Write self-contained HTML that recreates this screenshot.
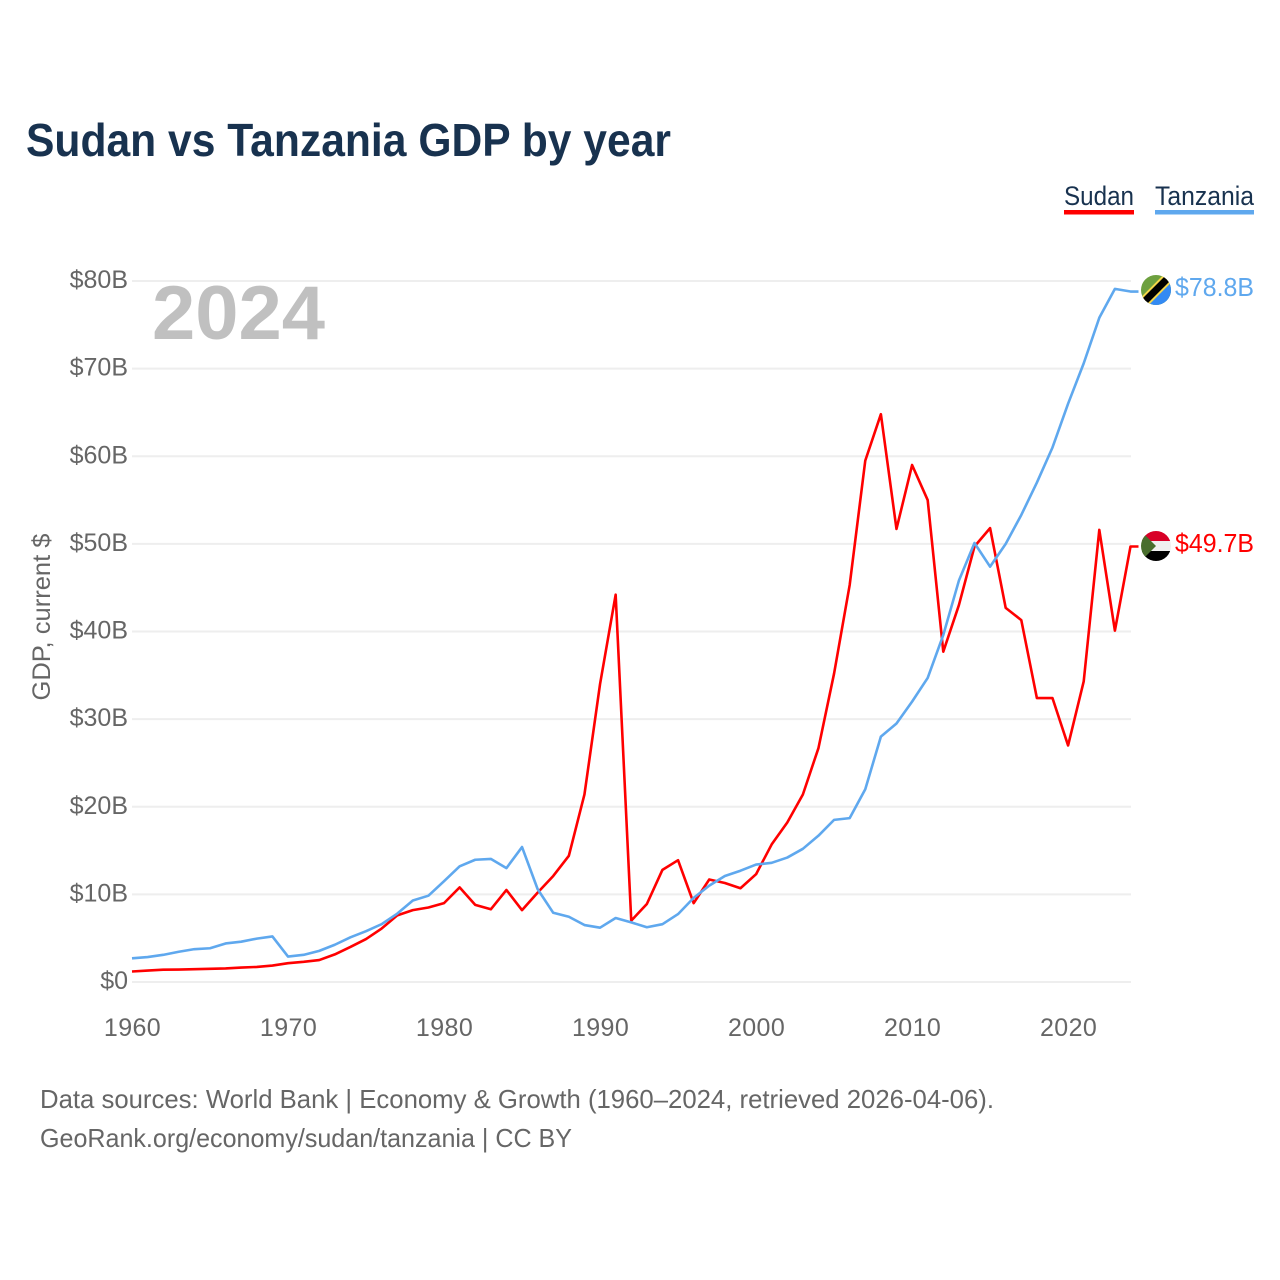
<!DOCTYPE html>
<html lang="en">
<head>
<meta charset="utf-8">
<title>Sudan vs Tanzania GDP by year</title>
<style>
html,body{margin:0;padding:0;background:#fff;width:1280px;height:1280px;overflow:hidden}
svg{display:block;font-family:"Liberation Sans",Arial,sans-serif}
</style>
</head>
<body>
<svg id="chart" xmlns="http://www.w3.org/2000/svg" width="1280" height="1280" viewBox="0 0 1280 1280">
  <defs>
    <clipPath id="flag-clip-tz"><circle cx="1156" cy="290" r="15"/></clipPath>
    <clipPath id="flag-clip-sd"><circle cx="1156" cy="546" r="15"/></clipPath>
  </defs>
  <rect width="1280" height="1280" fill="#fff"/>
  <text x="26" y="156" font-size="46" font-weight="700" fill="#18324f" textLength="645" lengthAdjust="spacingAndGlyphs">Sudan vs Tanzania GDP by year</text>

  <g>
    <text x="1064" y="205" font-size="27" fill="#18324f" textLength="70" lengthAdjust="spacingAndGlyphs">Sudan</text>
    <rect x="1064" y="210" width="70" height="4.5" fill="#ff0000"/>
  </g>
  <g>
    <text x="1155" y="205" font-size="27" fill="#18324f" textLength="99" lengthAdjust="spacingAndGlyphs">Tanzania</text>
    <rect x="1155" y="210" width="99" height="4.5" fill="#5fa8ee"/>
  </g>

  <text transform="translate(50,617) rotate(-90)" text-anchor="middle" font-size="25" fill="#666" textLength="167" lengthAdjust="spacingAndGlyphs">GDP, current $</text>
  <g id="grid"></g>
  <g id="y-ticks"></g>
  <g id="x-ticks"></g>
  <text x="152" y="339" font-size="76" font-weight="700" fill="#c0c0c0" textLength="173" lengthAdjust="spacingAndGlyphs">2024</text>
  <g id="series"></g>

  <g clip-path="url(#flag-clip-tz)">
    <rect x="1141" y="275" width="30" height="30" fill="#6da03f"/>
    <polygon points="1171,275 1171,305 1141,305" fill="#338af3"/>
    <line x1="1139" y1="307" x2="1173" y2="273" stroke="#f5d74a" stroke-width="11"/>
    <line x1="1139" y1="307" x2="1173" y2="273" stroke="#000" stroke-width="7"/>
  </g>
  <g clip-path="url(#flag-clip-sd)">
    <rect x="1141" y="531" width="30" height="10" fill="#d80027"/>
    <rect x="1141" y="541" width="30" height="10" fill="#f0f0f0"/>
    <rect x="1141" y="551" width="30" height="10" fill="#000"/>
    <polygon points="1141,531 1156,546 1141,561" fill="#496e2d"/>
  </g>
  <text id="end-label-tanzania" x="1175" y="296" font-size="26" fill="#5fa8ee" textLength="79" lengthAdjust="spacingAndGlyphs"></text>
  <text id="end-label-sudan" x="1175" y="552" font-size="26" fill="#ff0000" textLength="79" lengthAdjust="spacingAndGlyphs"></text>

  <text x="40" y="1108" font-size="26" fill="#666" textLength="954" lengthAdjust="spacingAndGlyphs">Data sources: World Bank | Economy &amp; Growth (1960–2024, retrieved 2026-04-06).</text>
  <text x="40" y="1147" font-size="26" fill="#666" textLength="532" lengthAdjust="spacingAndGlyphs">GeoRank.org/economy/sudan/tanzania | CC BY</text>
</svg>
<script>
const startYear = 1960;
const yTickValues = [0, 10, 20, 30, 40, 50, 60, 70, 80];
const yTickLabels = ["$0", "$10B", "$20B", "$30B", "$40B", "$50B", "$60B", "$70B", "$80B"];
const xTickValues = [1960, 1970, 1980, 1990, 2000, 2010, 2020];
const xTickLabels = ["1960", "1970", "1980", "1990", "2000", "2010", "2020"];
const sudanValues = [1.2, 1.3, 1.4, 1.42, 1.46, 1.5, 1.55, 1.65, 1.72, 1.88,
  2.15, 2.3, 2.5, 3.15, 4.0, 4.9, 6.1, 7.6, 8.2, 8.5,
  9.0, 10.8, 8.8, 8.3, 10.5, 8.2, 10.2, 12.1, 14.4, 21.4,
  34.0, 44.2, 7.0, 8.9, 12.8, 13.9, 9.0, 11.7, 11.3, 10.7,
  12.3, 15.7, 18.2, 21.4, 26.7, 35.2, 45.3, 59.5, 64.8, 51.7,
  59.0, 55.0, 37.7, 43.0, 49.7, 51.8, 42.7, 41.3, 32.4, 32.4,
  27.0, 34.3, 51.6, 40.1, 49.7];
const tanzaniaValues = [2.7, 2.85, 3.1, 3.45, 3.75, 3.85, 4.4, 4.6, 4.95, 5.2,
  2.9, 3.1, 3.55, 4.25, 5.1, 5.8, 6.6, 7.8, 9.3, 9.85,
  11.5, 13.2, 13.95, 14.05, 13.0, 15.4, 10.6, 7.9, 7.45, 6.5,
  6.2, 7.3, 6.8, 6.25, 6.6, 7.75, 9.6, 11.0, 12.1, 12.7,
  13.4, 13.6, 14.2, 15.2, 16.7, 18.5, 18.7, 22.0, 28.0, 29.5,
  32.0, 34.7, 39.6, 45.8, 50.1, 47.4, 50.0, 53.3, 57.0, 61.0,
  66.0, 70.6, 75.8, 79.1, 78.8];

const NS = "http://www.w3.org/2000/svg";
function xScale(year) { return 132 + (year - 1960) * (1130.5 - 132) / 64; }
function yScale(v) { return 982 - v * (982 - 281) / 80; }
function make(tag, attrs, parent) {
  const el = document.createElementNS(NS, tag);
  for (const k in attrs) el.setAttribute(k, attrs[k]);
  parent.appendChild(el);
  return el;
}
const gridG = document.getElementById("grid");
const yG = document.getElementById("y-ticks");
const xG = document.getElementById("x-ticks");
const seriesG = document.getElementById("series");

yTickValues.forEach(function (v, i) {
  const line = make("line", {x1: 132, x2: 1131, y1: yScale(v), y2: yScale(v), stroke: "#eeeeee", "stroke-width": 2}, gridG);
  
  
  const label = make("text", {x: 128, y: yScale(v) + 7, "text-anchor": "end", "font-size": 25, fill: "#666"}, yG);
  
  
  label.textContent = yTickLabels[i];
});
xTickValues.forEach(function (yr, i) {
  const label = make("text", {x: xScale(yr) + 0.5, y: 1036, "text-anchor": "middle", "font-size": 25, "letter-spacing": 0.4, fill: "#666"}, xG);
  
  
  label.textContent = xTickLabels[i];
});
function drawSeries(values, color) {
  const pts = values.map(function (v, i) { return xScale(startYear + i).toFixed(2) + "," + yScale(v).toFixed(2); });
  const last = values[values.length - 1];
  pts.push((xScale(startYear + values.length - 1) + 8).toFixed(2) + "," + yScale(last).toFixed(2));
  return make("polyline", {points: pts.join(" "), fill: "none", stroke: color, "stroke-width": 2.6, "stroke-linejoin": "round"}, seriesG);
}
const sudanLine = drawSeries(sudanValues, "#ff0000");


const tanzaniaLine = drawSeries(tanzaniaValues, "#5fa8ee");



document.getElementById("end-label-tanzania").textContent = "$" + tanzaniaValues[tanzaniaValues.length - 1].toFixed(1) + "B";
document.getElementById("end-label-sudan").textContent = "$" + sudanValues[sudanValues.length - 1].toFixed(1) + "B";
</script>
</body>
</html>
